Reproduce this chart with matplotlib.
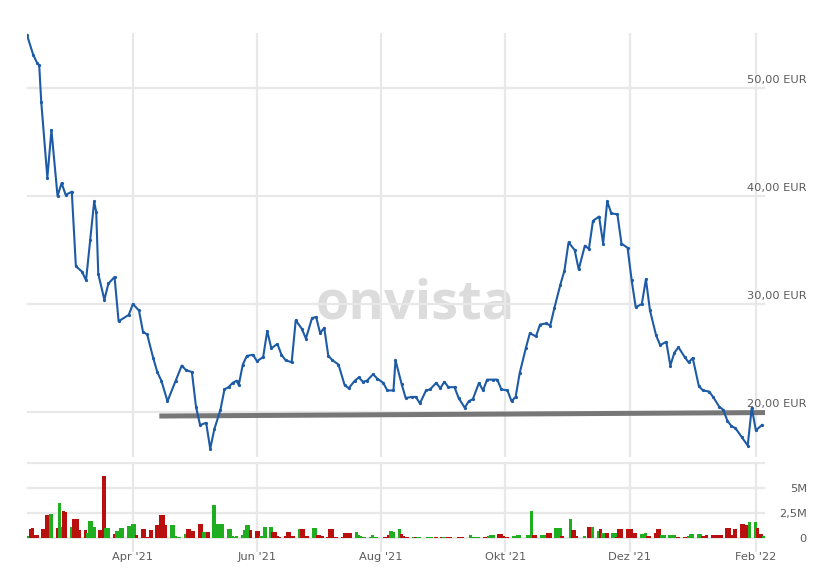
import numpy as np
import pandas as pd
import matplotlib
matplotlib.use("Agg")
import matplotlib.pyplot as plt
from matplotlib.transforms import ScaledTranslation

# Price line (EUR) at its turning points
price_dates = ['2021-02-08', '2021-02-11', '2021-02-13', '2021-02-14', '2021-02-15', '2021-02-18', '2021-02-20', '2021-02-23', '2021-02-25', '2021-02-27',
               '2021-03-02', '2021-03-04', '2021-03-07', '2021-03-09', '2021-03-11', '2021-03-13', '2021-03-14', '2021-03-15', '2021-03-18', '2021-03-20',
               '2021-03-23', '2021-03-25', '2021-03-30', '2021-04-01', '2021-04-04', '2021-04-06', '2021-04-08', '2021-04-11', '2021-04-13', '2021-04-15',
               '2021-04-18', '2021-04-22', '2021-04-25', '2021-04-27', '2021-04-30', '2021-05-02', '2021-05-04', '2021-05-07', '2021-05-09', '2021-05-11',
               '2021-05-14', '2021-05-16', '2021-05-18', '2021-05-20', '2021-05-22', '2021-05-23', '2021-05-25', '2021-05-27', '2021-05-30', '2021-06-01',
               '2021-06-04', '2021-06-06', '2021-06-08', '2021-06-11', '2021-06-13', '2021-06-15', '2021-06-18', '2021-06-20', '2021-06-23', '2021-06-25',
               '2021-06-28', '2021-06-30', '2021-07-02', '2021-07-04', '2021-07-06', '2021-07-08', '2021-07-11', '2021-07-14', '2021-07-16', '2021-07-19',
               '2021-07-21', '2021-07-23', '2021-07-25', '2021-07-28', '2021-07-30', '2021-08-02', '2021-08-04', '2021-08-07', '2021-08-08', '2021-08-11',
               '2021-08-13', '2021-08-16', '2021-08-18', '2021-08-20', '2021-08-23', '2021-08-25', '2021-08-28', '2021-08-30', '2021-09-01', '2021-09-03',
               '2021-09-06', '2021-09-08', '2021-09-11', '2021-09-13', '2021-09-15', '2021-09-18', '2021-09-20', '2021-09-22', '2021-09-25', '2021-09-27',
               '2021-09-29', '2021-10-02', '2021-10-04', '2021-10-06', '2021-10-08', '2021-10-11', '2021-10-13', '2021-10-16', '2021-10-18', '2021-10-21',
               '2021-10-23', '2021-10-25', '2021-10-28', '2021-10-30', '2021-11-01', '2021-11-04', '2021-11-06', '2021-11-09', '2021-11-11', '2021-11-13',
               '2021-11-16', '2021-11-18', '2021-11-20', '2021-11-22', '2021-11-25', '2021-11-27', '2021-11-30', '2021-12-02', '2021-12-04', '2021-12-07',
               '2021-12-09', '2021-12-11', '2021-12-14', '2021-12-16', '2021-12-19', '2021-12-21', '2021-12-23', '2021-12-25', '2021-12-28', '2021-12-30',
               '2022-01-01', '2022-01-04', '2022-01-06', '2022-01-09', '2022-01-11', '2022-01-14', '2022-01-16', '2022-01-18', '2022-01-20', '2022-01-22',
               '2022-01-25', '2022-01-28', '2022-01-30', '2022-02-01', '2022-02-04']
prices = [54.9, 53.1, 52.3, 52.1, 48.7, 41.7, 46.1, 40.0, 41.2, 40.1,
          40.4, 33.5, 33.0, 32.2, 35.9, 39.5, 38.5, 32.8, 30.4, 31.9,
          32.5, 28.4, 29.0, 30.0, 29.4, 27.4, 27.2, 25.0, 23.7, 22.9,
          21.0, 22.9, 24.3, 23.9, 23.7, 20.5, 18.8, 19.0, 16.6, 18.4,
          20.2, 22.1, 22.3, 22.7, 22.9, 22.5, 24.4, 25.2, 25.3, 24.7,
          25.1, 27.5, 25.9, 26.3, 25.3, 24.8, 24.6, 28.5, 27.7, 26.8,
          28.7, 28.8, 27.3, 27.8, 25.2, 24.8, 24.4, 22.5, 22.2, 22.9,
          23.2, 22.8, 22.9, 23.5, 23.1, 22.7, 22.0, 22.0, 24.8, 22.6,
          21.3, 21.4, 21.4, 20.8, 22.0, 22.1, 22.7, 22.2, 22.8, 22.3,
          22.3, 21.3, 20.4, 21.0, 21.2, 22.7, 22.0, 23.0, 23.0, 23.0,
          22.1, 22.0, 21.0, 21.4, 23.6, 25.9, 27.3, 27.0, 28.1, 28.2,
          28.0, 29.6, 31.8, 33.1, 35.7, 35.0, 33.2, 35.4, 35.1, 37.7,
          38.1, 35.6, 39.5, 38.4, 38.3, 35.6, 35.2, 32.2, 29.7, 30.0,
          32.3, 29.4, 27.1, 26.2, 26.5, 24.3, 25.5, 26.0, 25.1, 24.6,
          25.0, 22.4, 22.0, 21.9, 21.4, 20.5, 20.2, 19.2, 18.7, 18.5,
          17.7, 16.9, 20.4, 18.3, 18.8]

# support line drawn on the chart
support_dates = ['2021-04-14', '2022-02-06']
support_values = [19.63, 19.95]

# daily volume in millions, one row per week (Mon..Fri); g = up day, r = down day
volume = [0.2, 0.9, 1.0, 0.35, 0.3,
          0.87, 0.9, 2.27, 2.3, 2.4,
          1.0, 3.5, 1.1, 2.67, 2.6,
          1.1, 1.87, 1.87, 1.87, 0.77,
          0.77, 0.5, 1.73, 1.73, 1.1,
          0.77, 0.77, 6.2, 1.0, 1.0,
          0.37, 0.67, 0.67, 1.0, 1.0,
          1.17, 1.17, 1.43, 1.43, 0.3,
          0.87, 0.87, 0.1, 0.1, 0.77,
          1.27, 1.27, 2.27, 2.27, 1.27,
          1.27, 1.27, 0.2, 0.1, 0.1,
          0.43, 0.87, 0.87, 0.7, 0.7,
          1.4, 1.4, 0.6, 0.6, 0.6,
          3.27, 1.4, 1.4, 1.4, 1.4,
          0.93, 0.93, 0.2, 0.1, 0.2,
          0.3, 0.77, 1.27, 1.27, 0.77,
          0.73, 0.73, 0.2, 0.2, 1.1,
          1.1, 0.6, 0.6, 0.2, 0.1,
          0.2, 0.6, 0.6, 0.2, 0.2,
          0.87, 0.87, 0.87, 0.2, 0.2,
          1.0, 1.0, 0.33, 0.33, 0.2,
          0.1, 0.93, 0.93, 0.1, 0.1,
          0.1, 0.5, 0.5, 0.5, 0.5,
          0.6, 0.33, 0.2, 0.1, 0.1,
          0.13, 0.27, 0.1, 0.1, 0.05,
          0.1, 0.1, 0.33, 0.73, 0.6,
          0.93, 0.43, 0.2, 0.1, 0.1,
          0.1, 0.1, 0.1, 0.1, 0.05,
          0.13, 0.13, 0.1, 0.05, 0.1,
          0.1, 0.1, 0.1, 0.07, 0.07,
          0.05, 0.07, 0.07, 0.07, 0.05,
          0.3, 0.1, 0.1, 0.1, 0.1,
          0.1, 0.1, 0.2, 0.3, 0.3,
          0.43, 0.43, 0.2, 0.05, 0.1,
          0.2, 0.2, 0.3, 0.3, 0.05,
          0.33, 0.33, 2.7, 0.33, 0.33,
          0.33, 0.33, 0.33, 0.5, 0.5,
          1.0, 1.0, 1.0, 0.2, 0.05,
          1.93, 0.8, 0.8, 0.2, 0.05,
          0.2, 0.05, 1.1, 1.1, 1.1,
          0.7, 0.87, 0.5, 0.5, 0.5,
          0.5, 0.5, 0.1, 0.87, 0.87,
          0.87, 0.87, 0.87, 0.5, 0.5,
          0.4, 0.4, 0.5, 0.2, 0.2,
          0.5, 0.87, 0.87, 0.33, 0.33,
          0.33, 0.33, 0.33, 0.05, 0.1,
          0.1, 0.1, 0.2, 0.4, 0.4,
          0.4, 0.4, 0.2, 0.2, 0.3,
          0.3, 0.33, 0.33, 0.33, 0.33,
          1.0, 1.0, 0.33, 0.33, 0.87,
          1.4, 1.4, 1.3, 1.3, 1.57,
          1.57, 1.0, 0.4, 0.4, 0.2]
direction = ("grrrr" "rrrrg" "rggrr" "grrrr" "rgggg" "rrrgg" "rgggg" "ggggr"
             "rrrrr" "rrrrr" "ggggg" "grrrr" "rrggr" "ggggg" "ggggg" "ggggr"
             "rrggg" "grrrr" "rrrrr" "grrrr" "ggrrr" "rrrrr" "rrrrr" "ggggg"
             "ggggr" "rrrgg" "grrrr" "grggg" "gggrr" "rggrr" "rrrrr" "ggggg"
             "rrggg" "rrrrr" "ggggg" "gggrr" "gggrr" "gggrr" "grrrr" "grrrg"
             "grggr" "ggrrr" "rrrrr" "gggrr" "rrrgg" "gggrr" "rrggg" "ggrrr"
             "rrrrr" "rrrrr" "rrrrg" "grrrg")

tick_dates = ['2021-04-01', '2021-06-01', '2021-08-01', '2021-10-01', '2021-12-01', '2022-02-01']
tick_labels = ["Apr '21", "Jun '21", "Aug '21", "Okt '21", "Dez '21", "Feb '22"]
price_ticks = [20, 30, 40, 50]
price_labels = ['20,00 EUR', '30,00 EUR', '40,00 EUR', '50,00 EUR']
vol_ticks = [0, 2.5, 5, 7.5]
vol_labels = ['0', '2,5M', '5M', '']

days = pd.bdate_range('2021-02-08', periods=len(volume))
x_dates = pd.to_datetime(price_dates)
ticks = pd.to_datetime(tick_dates)
xmin, xmax = pd.Timestamp('2021-02-08'), pd.Timestamp('2022-02-05 12:00')

grid_c = '#e8e8e8'
text_c = '#5c5c5c'

fig = plt.figure(figsize=(8.37, 5.78), dpi=100)
ax = fig.add_axes([0.03226, 0.20865, 0.88172, 0.73443])
axv = fig.add_axes([0.03226, 0.04498, 0.88172, 0.15571], sharex=ax)

# price panel
ax.text(0.526, 0.328, 'onvista', transform=ax.transAxes, fontsize=39,
        family='Open Sans', weight='bold', color='#dcdcdc',
        ha='center', va='baseline', zorder=0)
ax.plot(pd.to_datetime(support_dates), support_values, color='#777777',
        lw=3.6, solid_capstyle='butt', zorder=2)
ax.plot(x_dates, prices, color='#1d5ba6', lw=1.5, marker='o', ms=1.3, zorder=3)
ax.set_ylim(15.8, 55.1)
ax.set_xlim(xmin, xmax)
ax.set_yticks(price_ticks)
ax.yaxis.tick_right()
ax.set_yticklabels(price_labels, ha='right', va='bottom')
ax.tick_params(axis='y', length=0, pad=30.2, labelsize=8.2, labelcolor=text_c)
ax.tick_params(axis='x', length=0, labelbottom=False)
ax.set_xticks(ticks)
for lab in ax.get_yticklabels():
    lab.set_transform(lab.get_transform() + ScaledTranslation(0, 0.03, fig.dpi_scale_trans))
ax.grid(True, color=grid_c, lw=1.6)
ax.set_axisbelow(True)
for s in ax.spines.values():
    s.set_visible(False)

# volume panel
bar_colors = ['#1fae1f' if c == 'g' else '#b90f0f' for c in direction]
axv.bar(days, volume, width=1.65, align='edge', color=bar_colors, lw=0, zorder=2)
axv.set_ylim(-1.4, 7.6)
axv.set_yticks(vol_ticks)
axv.yaxis.tick_right()
axv.set_yticklabels(vol_labels, ha='right')
axv.tick_params(axis='y', length=0, pad=30.2, labelsize=8.2, labelcolor=text_c)
axv.set_xticks(ticks)
axv.set_xticklabels(tick_labels)
axv.tick_params(axis='x', length=0, pad=0, labelsize=8.2, labelcolor=text_c)
axv.grid(True, color=grid_c, lw=1.6)
axv.set_axisbelow(True)
for s in axv.spines.values():
    s.set_visible(False)

fig.savefig('out.png', dpi=100, facecolor='white')
